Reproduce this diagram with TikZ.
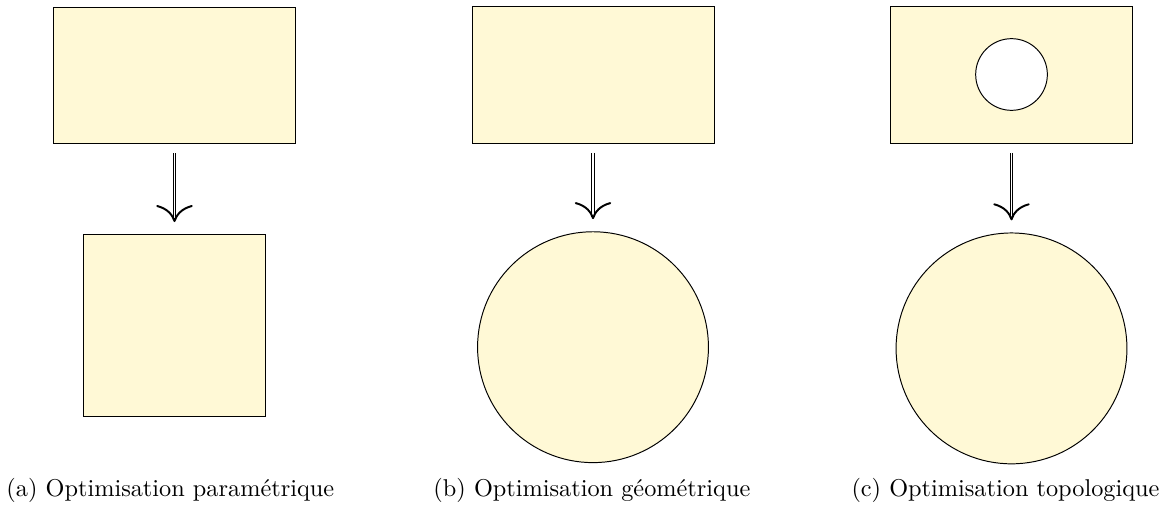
\documentclass[tikz,border=0pt]{standalone}
\usepackage{tikz}
\usetikzlibrary{arrows.meta,positioning}
\definecolor{domfill}{HTML}{FFF9D6}

\begin{document}
\begin{tikzpicture}[
  x=0.4115pt, y=-0.4115pt,
  dom/.style={draw, fill=domfill, inner sep=0pt, minimum width=99.6pt, minimum height=56.2pt},
  sq/.style={draw, fill=domfill, inner sep=0pt, minimum size=74.8pt},
  disc/.style={circle, draw, fill=domfill, inner sep=0pt, minimum size=95pt},
  hole/.style={circle, draw, fill=white, inner sep=0pt, minimum size=29.5pt},
  arr/.style={double, double distance=0.7pt,
              -{Computer Modern Rightarrow[length=7pt, width=15pt, line width=0.8pt]},
              shorten <=3.7pt, shorten >=5pt},
  subcap/.style={font=\normalsize, anchor=base west, inner sep=0pt}
]
  \useasboundingbox (0,0) rectangle (1174,509);
  % (a) parametric
  \node[dom] (domA) at (174.5,75.5) {};
  \node[sq, below=37pt of domA] (sqA) {};
  \draw[arr] (domA.south) -- (sqA.north);
  % (b) shape
  \node[dom] (domB) at (593,75) {};
  \node[disc, below=36pt of domB] (discB) {};
  \draw[arr] (domB.south) -- (discB.north);
  % (c) topology
  \node[dom] (domC) at (1011.5,75) {};
  \node[hole] (holeC) at (1011.5,74.5) {};
  \node[disc, below=36.5pt of domC] (discC) {};
  \draw[arr] (domC.south) -- (discC.north);
  % captions
  \node[subcap] (capA) at (6,496) {(a)\ Optimisation paramétrique};
  \node[subcap] (capB) at (433,496) {(b)\ Optimisation géométrique};
  \node[subcap] (capC) at (851,496) {(c)\ Optimisation topologique};
\end{tikzpicture}
\end{document}
